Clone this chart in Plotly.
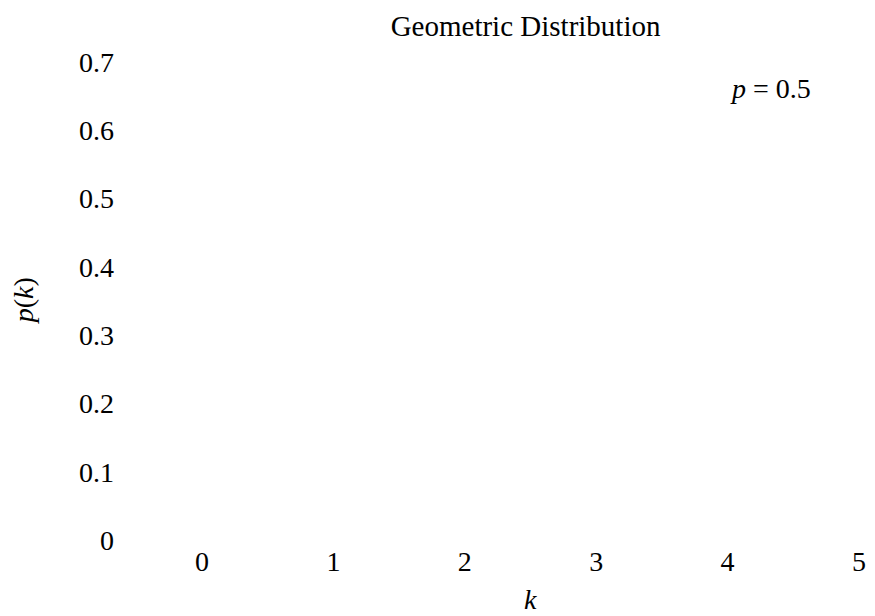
import plotly.graph_objects as go

# Data (the reference shows an empty plot area: no bars are drawn)
k_values = []
pk_values = []
x_ticks = [0, 1, 2, 3, 4, 5]
y_ticks = [0, 0.1, 0.2, 0.3, 0.4, 0.5, 0.6, 0.7]
y_tick_labels = ["0", "0.1", "0.2", "0.3", "0.4", "0.5", "0.6", "0.7"]
param_label = "<i>p</i> = 0.5"

FONT = "Liberation Serif, DejaVu Serif, serif"
SIZE = 28

fig = go.Figure()
fig.add_trace(go.Bar(x=k_values, y=pk_values, showlegend=False))

fig.update_layout(
    width=867, height=608,
    paper_bgcolor="white", plot_bgcolor="white",
    margin=dict(l=194, r=9, t=54, b=76),
    font=dict(family=FONT, size=SIZE, color="black"),
    title=dict(text="Geometric Distribution", x=0.4925, xref="paper", xanchor="center",
               y=0.971, yref="container", yanchor="middle",
               font=dict(family=FONT, size=29, color="black")),
    showlegend=False,
)
fig.update_xaxes(range=[0, 5], tickvals=x_ticks, showgrid=False, zeroline=False,
                 showline=False, ticks="", ticklabelstandoff=2)
fig.update_yaxes(range=[0, 0.7], tickvals=y_ticks, ticktext=y_tick_labels, showgrid=False,
                 zeroline=False, showline=False, ticks="", ticklabelstandoff=87)

# axis titles
fig.add_annotation(x=0.5, y=-0.1255, xref="paper", yref="paper", text="<i>k</i>",
                   showarrow=False, xanchor="center", yanchor="middle",
                   font=dict(family=FONT, size=SIZE, color="black"))
fig.add_annotation(x=-0.272, y=0.5, xref="paper", yref="paper", text="<i>p</i>(<i>k</i>)",
                   showarrow=False, textangle=-90, xanchor="center", yanchor="middle",
                   font=dict(family=FONT, size=SIZE, color="black"))

fig.add_annotation(x=4.33, y=0.661, xref="x", yref="y", text=param_label,
                   showarrow=False, font=dict(family=FONT, size=SIZE, color="black"))

fig.write_html("out.html")
